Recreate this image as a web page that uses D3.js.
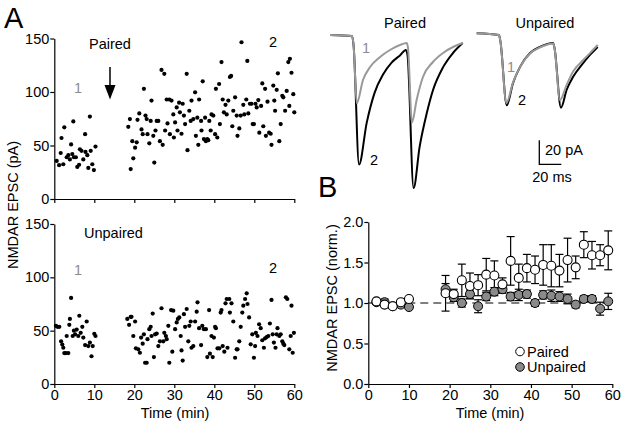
<!DOCTYPE html>
<html><head><meta charset="utf-8">
<script src="https://cdn.jsdelivr.net/npm/d3@7"></script>
<style>
html,body{margin:0;padding:0;background:#fff;}
svg{display:block;font-family:"Liberation Sans",Arial,sans-serif;}
</style></head>
<body>
<svg id="c" width="623" height="426"></svg>
<script>
// ---------- DATA ----------
const timeTicks = [0,10,20,30,40,50,60];
const pAticks = [0,50,100,150];
const normTicks = [0,0.5,1.0,1.5,2.0];

// Panel A top: Paired, [time (min), EPSC (pA)]
const pairedScatter = [
[0.6,35.6],[1.2,31.6],[1.6,43],[1.8,57],[2.25,32.5],[2.5,67],[3.1,39],[3.5,41],[3.9,37],[4.2,51],
[4.5,42],[4.75,72.5],[4.9,39],[5.4,39],[5.75,30],[6.2,32],[6.4,46.5],[6.8,45],[7.25,37],[7.7,60.6],
[7.8,44],[8.25,41],[8.5,29],[8.9,77],[9.1,45],[9.5,32.5],[9.9,27],[10.3,49],
[18.5,67.5],[18.9,74.7],[19.1,28],[19.5,54],[19.75,38],[20.2,48],[20.6,53],[20.8,74],[21.25,80],[21.8,65],
[22.1,60.6],[22.4,103],[22.8,78],[23.1,74.7],[23.3,60.6],[23.75,52],[24.1,73],[24.3,92],[24.75,59],[25,34],
[25.3,64],[25.6,73],[26,73],[26.4,54],[26.8,120.6],[27.1,50.6],[27.5,117],[27.7,64],[28.1,93],[28.3,70.6],
[28.75,93],[28.9,60.6],[29.3,92],[29.75,79],[29.9,57.5],[30.2,71.6],[30.6,85.6],[30.8,64],[31.2,90],[31.4,81],
[31.8,61],[32.1,89],[32.4,78],[32.7,70],[33.1,117],[33.3,45.6],[33.75,82.5],[34.1,73],[34.3,92],[34.75,74.7],
[35.2,99.7],[35.4,59],[35.75,76],[36,50.6],[36.2,93],[36.7,73],[36.8,64],[37.1,110],[37.4,56],[37.7,76],
[37.9,54],[38.25,56],[38.5,55],[38.75,73],[39.1,64],[39.3,79],[39.75,78],[40.2,60.6],[40.4,103],[40.75,57.5],
[41.2,107.5],[41.4,70],[41.8,128],[42.1,93],[42.4,81],[42.8,88],[43.1,79],[43.5,92],[43.9,114],[44.2,115],
[44.5,68],[44.75,82.5],[45.2,95],[45.6,78],[45.8,59],[46.25,66],[46.6,78],[46.8,146.5],[47.25,88],[47.5,79],
[48,93],[48.25,129],[48.5,80],[48.9,89],[49.3,89],[49.6,70],[49.9,70],[50.3,89],[50.6,85.6],[51,92.5],
[51.25,62],[51.7,87],[52,108],[52.25,68],[52.7,103],[52.9,59],[53.3,91],[53.7,62],[54.1,61],[54.3,50.6],
[54.75,106],[55,92],[55.2,82.5],[55.6,102],[55.9,117.5],[56.25,54],[56.6,70],[57,96.5],[57.25,95],[57.7,82.5],
[58.1,101],[58.5,128],[58.75,87],[58.9,131],[59.3,118],[59.75,98],[60,81]
];

// Panel A bottom: Unpaired, [time (min), EPSC (pA)]
const unpairedScatter = [
[0.4,54.5],[0.8,53.6],[1.25,53.6],[1.7,40],[2,37],[2.25,34],[2.5,29],[2.9,29],[3.1,45],[3.5,29],
[3.75,55.5],[3.9,61],[4.2,80.7],[4.6,45],[4.9,50],[5.2,46.6],[5.6,51],[6,45],[6.25,64],[6.6,48],
[7,53.6],[7.25,43.5],[7.7,36.5],[8.1,58.6],[8.5,35.6],[8.9,38.8],[9.3,26],[9.6,35.6],[10,47],[10.3,45],
[18.25,61],[18.7,55.5],[19.1,63],[19.3,63],[19.75,45],[20.2,58.6],[20.4,33.4],[21,32.5],[21.4,29.3],[21.7,43.5],
[22.1,37.8],[22.4,46.6],[22.7,19.9],[23.1,19.9],[23.3,42],[23.75,51.4],[24.1,53.6],[24.3,45],[24.6,66],[24.9,25.2],
[25.2,46.6],[25.6,47.3],[26,35.6],[26.4,40],[26.8,71],[27.25,40],[27.5,48],[27.9,45],[28.1,42],[28.5,54.5],
[28.75,19.9],[29.2,69.3],[29.5,30.3],[29.75,68.7],[30.2,51.4],[30.6,57.7],[30.9,61],[31.25,62.4],[31.6,45],[31.8,31.5],
[32.1,22],[32.4,65.5],[32.7,53.6],[33.1,70.3],[33.5,40],[33.75,54.5],[34.1,58.6],[34.3,34],[34.75,35.6],[35.2,58.6],
[35.6,67.8],[35.8,76.6],[36.2,52.3],[36.7,36.5],[37,54.5],[37.4,51.4],[37.9,51.4],[38.25,25.2],[38.7,69.3],[38.9,28.4],
[39.3,45],[39.6,25.2],[39.9,43.5],[40.2,53.6],[40.4,52.3],[40.8,33.4],[41.25,33.4],[41.6,67],[41.8,69.3],[42.1,35.6],
[42.5,30.3],[42.8,75.6],[43.1,79.7],[43.3,34],[43.75,79.7],[43.9,67],[44.3,75.6],[44.75,58.6],[45.2,24.6],[45.6,32.5],
[45.8,32.5],[46.25,40],[46.6,53.6],[47,67],[47.25,73.4],[47.7,79.7],[48.1,85],[48.3,75],[48.7,62.4],[49.1,37.2],
[49.5,46.6],[49.9,24.6],[50.2,35.6],[50.4,48],[50.8,45],[51.2,56],[51.6,52.3],[52,41],[52.4,34],[52.7,42.8],
[53.1,44],[53.5,45],[53.9,56.7],[54.3,78.8],[54.6,46.6],[54.9,38.8],[55.3,34],[55.6,46.6],[55.8,52.3],[56.25,45],
[56.6,46.6],[57,40],[57.25,37.8],[57.5,36.5],[57.9,81.3],[58.25,79.7],[58.75,32.5],[59.1,45],[59.3,73.4],[59.6,29.3],
[59.9,48]
];

// Example traces: [time (ms), current (pA)]
const pairedTrace2 = [[0,0],[20,-0.8],[21.4,-8.3],[26.4,-108],[33.4,-73],[40.6,-48],[48.2,-33],[56,-23],[63.6,-17],[69,-12.5],
 [70.5,-17],[76,-127.5],[81.5,-93],[88,-65],[93.6,-46],[102.7,-27],[111.8,-15],[120.6,-6.7]];
const pairedTrace1 = [[0,0],[20,-0.8],[21.4,-8],[24.3,-57],[30,-37.5],[36.4,-26.7],[45.5,-18.3],[54.5,-12.5],[63.6,-8.3],[69.7,-6.7],
 [70.9,-10.8],[74.5,-73],[78.8,-54],[84.5,-35],[93.6,-22.5],[102.7,-15],[111.8,-10],[120.6,-6.7]];
const unpairedTrace2 = [[0,0],[20.3,-1.4],[21.6,-7],[27.3,-60],[33,-41.5],[39.4,-28],[48.5,-16.4],[57.5,-11.4],[69.4,-8],
 [70.7,-12],[76.6,-62],[81.8,-47],[87.5,-36.5],[96.6,-25],[103,-18],[110,-11.4]];
const unpairedTrace1 = [[0,0],[20.3,-1.4],[21.6,-7],[27,-58],[33,-41],[39.4,-28],[48.5,-16.8],[57.5,-11.8],[69.4,-8.4],
 [70.7,-12],[75.7,-55.5],[81.8,-43],[87.5,-32],[96.6,-22.5],[103,-16.5],[110,-9.7]];

// Panel B: normalized means [time, mean, sem]
const pairedNorm = [[2,1.02,0.02],[4,0.98,0.02],[6,0.96,0.02],[8,1.01,0.02],[10,1.05,0.02],
 [19,1.12,0.22],[21,1.11,0.06],[23,1.28,0.2],[25,1.21,0.16],[27,1.22,0.13],[29,1.35,0.2],[31,1.34,0.18],[33,1.23,0.08],
 [35,1.52,0.3],[37,1.31,0.17],[39,1.43,0.17],[41,1.41,0.17],[43,1.47,0.25],[45,1.46,0.26],[47,1.4,0.2],[49,1.53,0.27],
 [51,1.44,0.14],[53,1.72,0.16],[55,1.59,0.17],[57,1.59,0.13],[59,1.65,0.24]];
const unpairedNorm = [[2,1.01,0.02],[4,1.01,0.04],[6,0.96,0.02],[8,0.98,0.02],[10,0.95,0.02],
 [19,1.17,0.07],[21,1.07,0.05],[23,1.0,0.05],[25,1.11,0.05],[27,0.96,0.08],[29,1.08,0.05],[31,1.14,0.05],[33,1.17,0.05],
 [35,1.08,0.05],[37,1.1,0.07],[39,1.11,0.05],[41,1.0,0.04],[43,1.1,0.05],[45,1.09,0.07],[47,1.08,0.06],[49,1.05,0.06],
 [51,0.98,0.04],[53,1.05,0.04],[55,1.05,0.04],[57,0.93,0.08],[59,1.02,0.1]];

// ---------- DRAW ----------
const svg = d3.select("#c");
const FS = 14.5;
const GRAY = "#8c8c8c";

function styleAxis(g){
  g.selectAll("path,line").attr("stroke","#000").attr("stroke-width",1.2);
  g.selectAll("text").attr("font-size",FS).attr("fill","#000").attr("font-family",'"Liberation Sans",Arial,sans-serif');
}

// Panel A scales
const xA = d3.scaleLinear().domain([0,60]).range([54.3,294.3]);
const yTop = d3.scaleLinear().domain([0,150]).range([199,38.5]);
const yBot = d3.scaleLinear().domain([0,150]).range([384,224]);

// Top axes
svg.append("g").attr("transform","translate(0,199)")
  .call(d3.axisBottom(xA).tickValues(timeTicks).tickSize(4).tickSizeOuter(0).tickFormat(""))
  .call(styleAxis);
svg.append("g").attr("transform","translate(54.3,0)")
  .call(d3.axisLeft(yTop).tickValues(pAticks).tickSize(4).tickPadding(1).tickSizeOuter(0))
  .call(styleAxis);
// Bottom axes
svg.append("g").attr("transform","translate(0,384)")
  .call(d3.axisBottom(xA).tickValues(timeTicks).tickSize(4).tickPadding(2).tickSizeOuter(0))
  .call(styleAxis);
svg.append("g").attr("transform","translate(54.3,0)")
  .call(d3.axisLeft(yBot).tickValues(pAticks).tickSize(4).tickPadding(1).tickSizeOuter(0))
  .call(styleAxis);

svg.append("g").selectAll("circle").data(pairedScatter).join("circle")
  .attr("cx",d=>xA(d[0])).attr("cy",d=>yTop(d[1])).attr("r",2.1).attr("fill","#000");
svg.append("g").selectAll("circle").data(unpairedScatter).join("circle")
  .attr("cx",d=>xA(d[0])).attr("cy",d=>yBot(d[1])).attr("r",2.1).attr("fill","#000");

function txt(x,y,s,opts={}){
  const t = svg.append("text").attr("x",x).attr("y",y).text(s)
    .attr("font-size",opts.fs||FS).attr("fill",opts.fill||"#000");
  if(opts.anchor) t.attr("text-anchor",opts.anchor);
  return t;
}
txt(4,28,"A",{fs:29});
txt(318,197,"B",{fs:29});
txt(89,49,"Paired");
txt(74,93,"1",{fill:GRAY});
txt(269,47,"2");
txt(84,238,"Unpaired");
txt(74,275,"1",{fill:GRAY});
txt(269,273,"2");
txt(175,418,"Time (min)",{anchor:"middle"});
txt(490,418,"Time (min)",{anchor:"middle"});
svg.append("text").attr("transform","translate(18,205) rotate(-90)").attr("text-anchor","middle")
  .attr("font-size",FS).text("NMDAR EPSC (pA)");
svg.append("text").attr("transform","translate(337,298) rotate(-90)").attr("text-anchor","middle")
  .attr("font-size",FS).text("NMDAR EPSC (norm.)");

// Arrow
svg.append("line").attr("x1",110).attr("y1",67).attr("x2",110).attr("y2",88).attr("stroke","#000").attr("stroke-width",1.5);
svg.append("path").attr("d","M104.5,85 L115.5,85 L110,99.5 Z").attr("fill","#000");

// Traces
const msPx = 1.1, pAPx = 1.2;
function traceScales(x0,y0){
  return {
    x: d3.scaleLinear().domain([0,100]).range([x0,x0+100*msPx]),
    y: d3.scaleLinear().domain([0,-100]).range([y0,y0+100*pAPx])
  };
}
const tp = traceScales(330,35), tu = traceScales(476.7,33.3);
function drawTrace(data,sc,color){
  const line = d3.line().x(d=>sc.x(d[0])).y(d=>sc.y(d[1])).curve(d3.curveMonotoneX);
  svg.append("path").attr("d",line(data)).attr("fill","none").attr("stroke",color)
    .attr("stroke-width",2).attr("stroke-linejoin","round");
}
drawTrace(pairedTrace2,tp,"#000");
drawTrace(pairedTrace1,tp,"#999");
drawTrace(unpairedTrace2,tu,"#000");
drawTrace(unpairedTrace1,tu,"#999");
txt(405,28,"Paired",{anchor:"middle"});
txt(545,28,"Unpaired",{anchor:"middle"});
txt(362,53,"1",{fill:GRAY});
txt(370,165,"2");
txt(507,72,"1",{fill:GRAY});
txt(518,105,"2");

// Scale bar
const sbx = 539.3, sby = 164.3;
svg.append("path").attr("d",`M${sbx},${sby-20*pAPx} L${sbx},${sby} L${sbx+20*msPx},${sby}`)
  .attr("fill","none").attr("stroke","#000").attr("stroke-width",1.3);
txt(545,155,"20 pA");
txt(552,182,"20 ms",{anchor:"middle"});

// Panel B
const xB = d3.scaleLinear().domain([0,60]).range([368.3,612.3]);
const yB = d3.scaleLinear().domain([0,2]).range([384,222]);
svg.append("g").attr("transform","translate(0,384)")
  .call(d3.axisBottom(xB).tickValues(timeTicks).tickSize(4).tickPadding(2).tickSizeOuter(0))
  .call(styleAxis);
svg.append("g").attr("transform","translate(368.3,0)")
  .call(d3.axisLeft(yB).tickValues(normTicks).tickSize(4).tickPadding(1).tickSizeOuter(0).tickFormat(d3.format(".1f")))
  .call(styleAxis);
svg.append("line").attr("x1",xB(0)).attr("x2",xB(60)).attr("y1",yB(1)).attr("y2",yB(1))
  .attr("stroke","#000").attr("stroke-width",1.2).attr("stroke-dasharray","8,5");

function errBars(data){
  const g = svg.append("g").attr("stroke","#000").attr("stroke-width",1.2);
  data.forEach(d=>{
    if(d[2] < 0.04) return;
    const x = xB(d[0]), y1 = yB(d[1]+d[2]), y2 = yB(d[1]-d[2]);
    g.append("line").attr("x1",x).attr("x2",x).attr("y1",y1).attr("y2",y2);
    g.append("line").attr("x1",x-4).attr("x2",x+4).attr("y1",y1).attr("y2",y1);
    g.append("line").attr("x1",x-4).attr("x2",x+4).attr("y1",y2).attr("y2",y2);
  });
}
errBars(unpairedNorm);
errBars(pairedNorm);
svg.append("g").selectAll("circle").data(unpairedNorm).join("circle")
  .attr("cx",d=>xB(d[0])).attr("cy",d=>yB(d[1])).attr("r",4.5)
  .attr("fill","#8a8a8a").attr("stroke","#000").attr("stroke-width",1);
svg.append("g").selectAll("circle").data(pairedNorm).join("circle")
  .attr("cx",d=>xB(d[0])).attr("cy",d=>yB(d[1])).attr("r",4.5)
  .attr("fill","#fff").attr("stroke","#000").attr("stroke-width",1.1);

// Legend
svg.append("circle").attr("cx",520).attr("cy",351.5).attr("r",4.3).attr("fill","#fff").attr("stroke","#000");
svg.append("circle").attr("cx",520).attr("cy",367).attr("r",4.3).attr("fill","#8a8a8a").attr("stroke","#000");
txt(527,357,"Paired");
txt(527,372,"Unpaired");
</script>
</body></html>
